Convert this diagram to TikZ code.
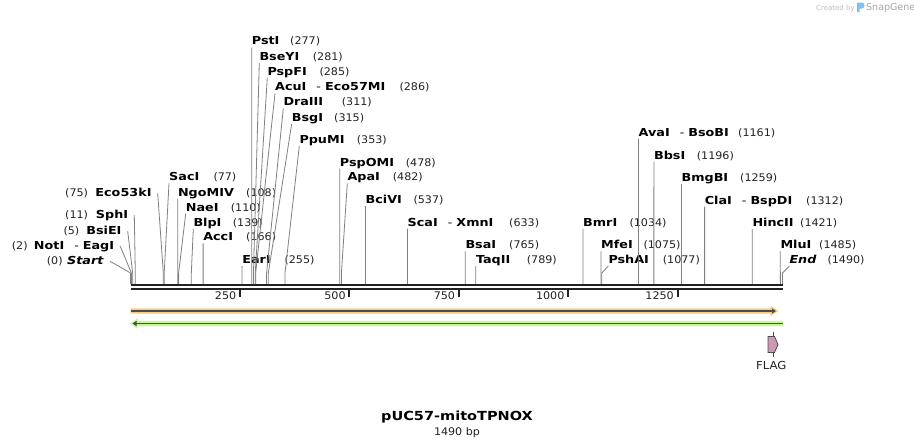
\documentclass[tikz,border=0pt]{standalone}
\usepackage{fontspec}
\setmainfont{DejaVu Sans}[ItalicFont=DejaVu Sans Oblique, BoldItalicFont=DejaVu Sans Bold Oblique]
\newfontfamily\enzfont{DejaVu Sans}[FakeStretch=1.16, BoldFont=DejaVu Sans Bold, ItalicFont=DejaVu Sans Oblique, BoldItalicFont=DejaVu Sans Bold Oblique]
\newfontfamily\numfont{DejaVu Sans}[FakeStretch=1.06]
\usetikzlibrary{arrows.meta}
\definecolor{cutgray}{RGB}{128,128,128}
\definecolor{axisdark}{RGB}{34,34,34}
\definecolor{featorange}{RGB}{250,203,128}
\definecolor{featgreen}{RGB}{200,245,150}
\definecolor{featline}{RGB}{77,77,77}
\definecolor{flagpink}{RGB}{203,152,182}
\definecolor{creditgray}{RGB}{190,190,190}
\definecolor{snapgray}{RGB}{165,165,165}
\definecolor{snapblue}{RGB}{125,195,238}
\tikzset{
  enz/.style={inner sep=0pt, text height=8pt, text depth=2.5pt, font=\enzfont\fontsize{11}{13}\selectfont\bfseries},
  bpnum/.style={inner sep=0pt, text height=8pt, text depth=2.5pt, font=\numfont\fontsize{10.5}{12}\selectfont, text=axisdark, anchor=base west},
  cut/.style={draw=cutgray, line width=0.8pt},
  ruler/.style={line width=2.4pt, axisdark},
  ticklbl/.style={inner sep=0pt, font=\numfont\fontsize{10.5}{12}\selectfont, text=axisdark, anchor=base east},
  featarrow/.style={featline, line width=1.5pt},
  small/.style={inner sep=0pt, font=\numfont\fontsize{10.5}{12}\selectfont, text=axisdark, anchor=base}
}
\newcommand{\twoenz}[2]{#1\hspace{10pt}{\mdseries -}\hspace{4pt}#2}

\begin{document}
\begin{tikzpicture}[x=1pt, y=-1pt]
\useasboundingbox[fill=white] (0,0) rectangle (914,447);

\foreach \pos/\lx/\ly/\lbl/\nx in {
  77/169/180.7/SacI/213.3, 108/177.8/196/NgoMIV/246, 110/185.7/211/NaeI/230.7,
  139/193.3/226/BlpI/232.7, 166/203.1/240.7/AccI/246, 255/242.1/263.3/EarI/284.3,
  277/251.7/45/PstI/290, 281/259.3/60/BseYI/312.7, 285/267.3/75/PspFI/319.3,
  286/275/90.7/\twoenz{AcuI}{Eco57MI}/399.3, 311/283.3/105.7/DraIII/341.7,
  315/291.7/121/BsgI/334, 353/299.3/143.3/PpuMI/356.7, 478/339.7/166/PspOMI/405.7,
  482/347.3/180.7/ApaI/392.7, 537/365.5/203.5/BciVI/413.3,
  633/407.5/226/\twoenz{ScaI}{XmnI}/509, 765/465.3/248.7/BsaI/509,
  789/475.8/263.3/TaqII/526.7, 1034/583/226/BmrI/629.3, 1075/600.9/248.7/MfeI/643.3,
  1077/608.3/263.3/PshAI/662.7, 1161/638.5/136/\twoenz{AvaI}{BsoBI}/738,
  1196/653.9/159/BbsI/696.7, 1259/681.4/181.5/BmgBI/740,
  1312/704.6/204/\twoenz{ClaI}{BspDI}/806, 1421/752.3/226.5/HincII/800,
  1485/780.3/248.7/MluI/819, 1490/789.3/263.5/\textit{End}/827.3} {
  \pgfmathsetmacro\cx{130.5+0.4376*\pos}
  \coordinate (c\pos) at (\cx,284);
  \node[enz, anchor=base west] (e\pos) at (\lx,\ly) {\lbl};
  \node[bpnum] (n\pos) at (\nx,\ly) {(\pos)};
  \draw[cut] (e\pos.south west) -- (\cx,273) -- (c\pos);
}

\foreach \pos/\rx/\ly/\lbl/\nx in {
  0/104/264/\textit{Start}/46.7, 2/114.3/249/\twoenz{NotI}{EagI}/11.7,
  5/121.7/234/BsiEI/63.3, 11/128.3/218/SphI/65, 75/151.7/196/Eco53kI/65} {
  \pgfmathsetmacro\cx{130.5+0.4376*\pos}
  \coordinate (c\pos) at (\cx,284);
  \node[enz, anchor=base east] (e\pos) at (\rx,\ly) {\lbl};
  \node[bpnum] (n\pos) at (\nx,\ly) {(\pos)};
  \draw[cut] ([xshift=6pt]e\pos.east) -- (\cx,273) -- (c\pos);
}

\draw[ruler] (130.5,285.2) -- (782.5,285.2);
\draw[ruler] (130.5,289.2) -- (782.5,289.2);
\foreach \t in {250,500,...,1250} {
  \pgfmathsetmacro\tx{130.5+0.4376*\t}
  \draw[axisdark, line width=2pt] (\tx,289) -- ++(0,8);
  \node[ticklbl] (tk\t) at (\tx-3.5,299.5) {\t};
}

\fill[featorange] (130.5,308.3) -- (770.5,308.3) -- (770.5,305.8) -- (778.5,311)
  -- (770.5,316.2) -- (770.5,313.7) -- (130.5,313.7) -- cycle;
\draw[featarrow, -{Triangle[length=4pt,width=5pt]}] (131,311) -- (776,311);
\fill[featgreen] (130,323.5) -- (137.5,318.3) -- (137.5,320.8) -- (783,320.8)
  -- (783,326.2) -- (137.5,326.2) -- (137.5,328.7) -- cycle;
\draw[featarrow, {Triangle[length=4pt,width=5pt]}-] (132.5,323.5) -- (782.5,323.5);

\draw[featline, line width=0.8pt] (773.3,331.7) -- (773.3,356.7);
\filldraw[fill=flagpink, draw=featline, line width=0.8pt] (768,336.5) -- (774.5,336.5)
  -- (778,344.5) -- (774.5,352.5) -- (768,352.5) -- cycle;
\node[small, font=\numfont\fontsize{11}{13}\selectfont] (flag) at (771.3,369.5) {FLAG};

\node[small, font=\enzfont\fontsize{12.5}{15}\selectfont\bfseries, text=black] (title) at (457,420) {pUC57-mitoTPNOX};
\node[small] (size) at (457,435) {1490 bp};

\node[inner sep=0pt, anchor=base west, font=\fontsize{7}{8}\selectfont, text=creditgray] (created) at (816,10) {Created by};
\fill[snapblue] (857,2.5) -- (862,2.5) to[out=0,in=90] (864.5,5.5) to[out=-90,in=0] (862,8.5) -- (859.5,8.5) -- (859.5,12) -- (857,12) -- cycle;
\node[inner sep=0pt, anchor=base west, font=\fontsize{9.5}{11}\selectfont, text=snapgray] (snapgene) at (866,10.5) {SnapGene};
\end{tikzpicture}
\end{document}
